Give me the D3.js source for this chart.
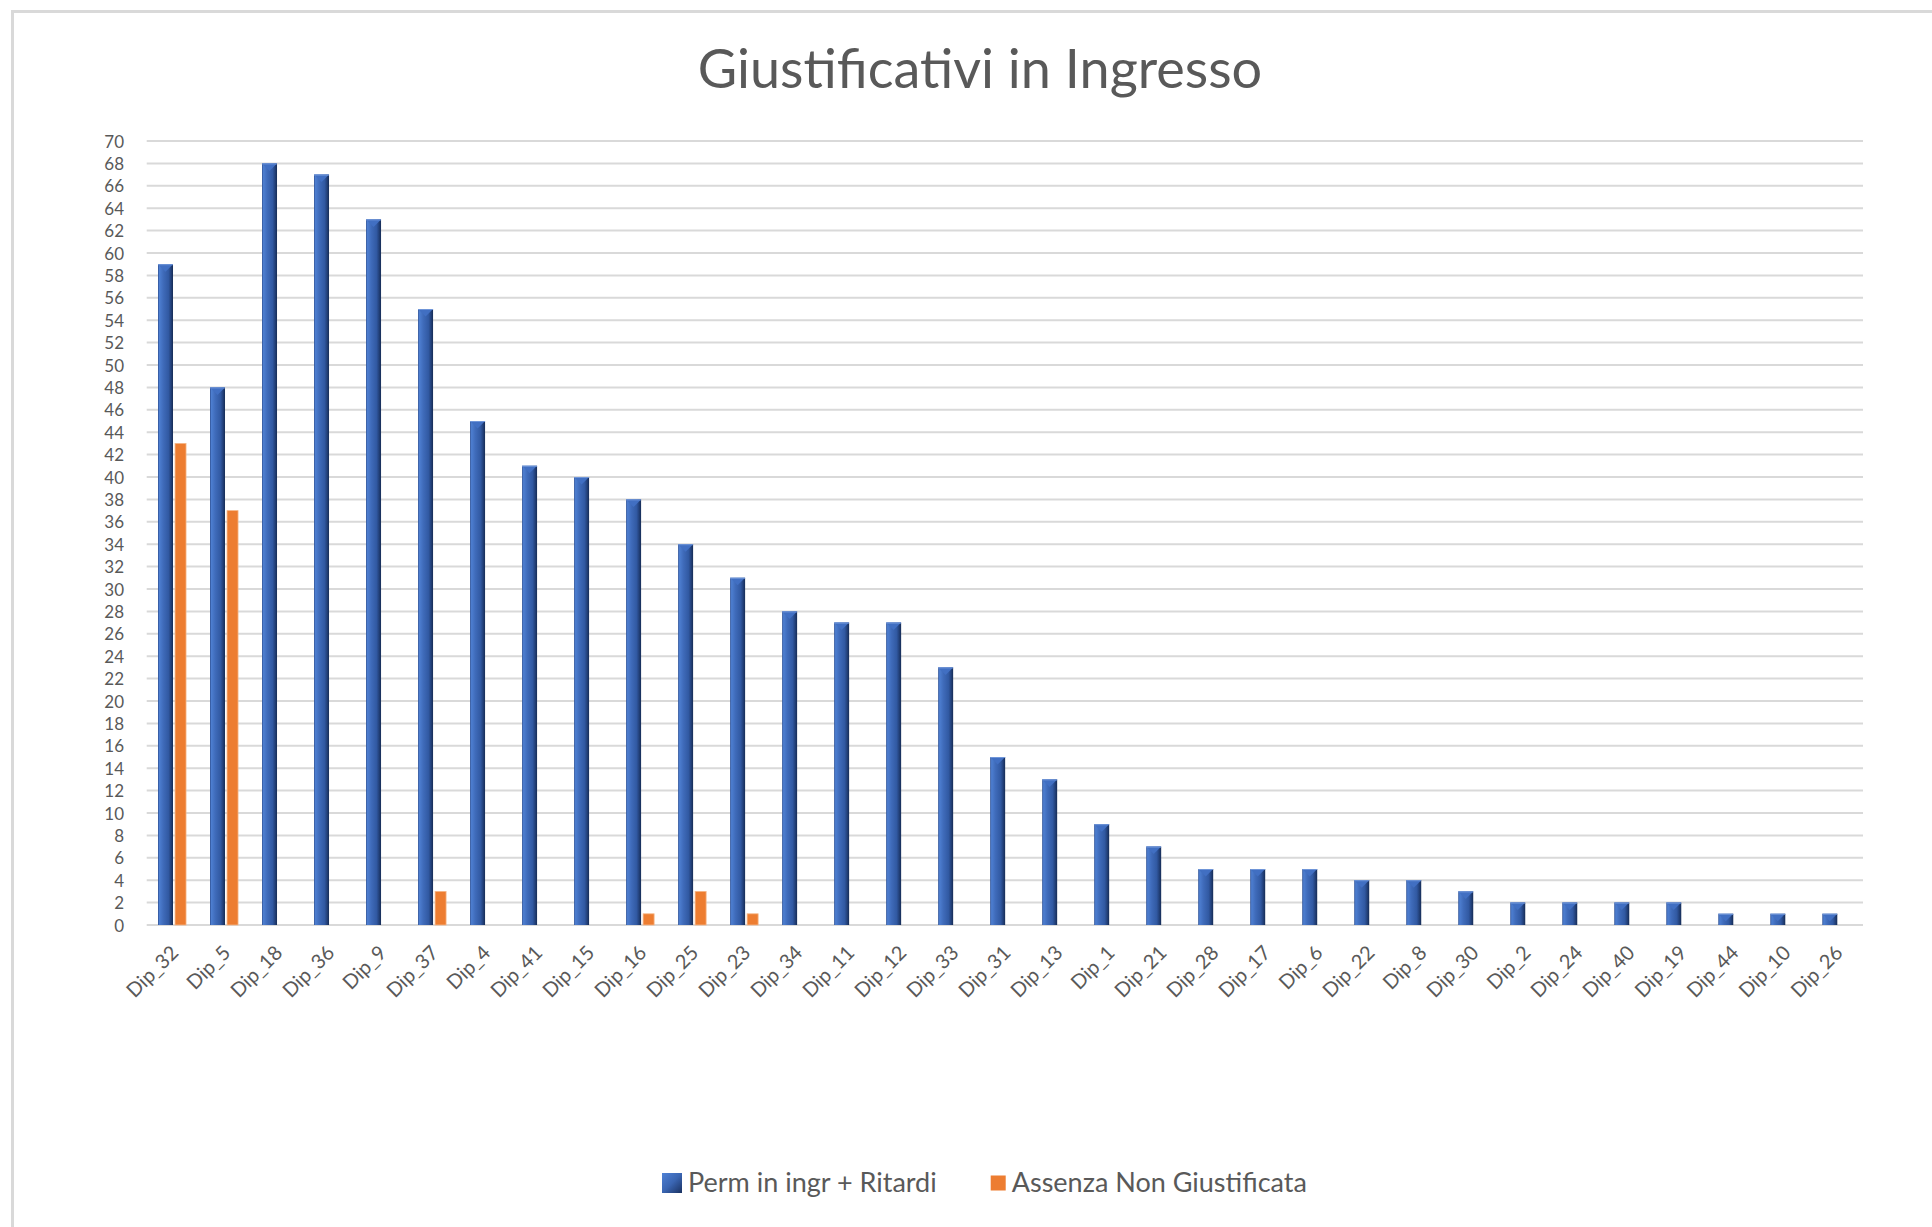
<!DOCTYPE html>
<html>
<head>
<meta charset="utf-8">
<script src="https://cdn.jsdelivr.net/npm/d3@7"></script>
<style>
  html, body { margin: 0; padding: 0; background: #ffffff; }
  svg { display: block; }
</style>
</head>
<body>
<script>
// ---------------- DATA ----------------
const categories = ["Dip_32","Dip_5","Dip_18","Dip_36","Dip_9","Dip_37","Dip_4","Dip_41","Dip_15","Dip_16","Dip_25","Dip_23","Dip_34","Dip_11","Dip_12","Dip_33","Dip_31","Dip_13","Dip_1","Dip_21","Dip_28","Dip_17","Dip_6","Dip_22","Dip_8","Dip_30","Dip_2","Dip_24","Dip_40","Dip_19","Dip_44","Dip_10","Dip_26"];
const permRitardi = [59,48,68,67,63,55,45,41,40,38,34,31,28,27,27,23,15,13,9,7,5,5,5,4,4,3,2,2,2,2,1,1,1];
const assenzaNonGiustificata = [43,37,0,0,0,3,0,0,0,1,3,1,0,0,0,0,0,0,0,0,0,0,0,0,0,0,0,0,0,0,0,0,0];
const seriesNames = ["Perm in ingr + Ritardi", "Assenza Non Giustificata"];
const yTicks = [0,2,4,6,8,10,12,14,16,18,20,22,24,26,28,30,32,34,36,38,40,42,44,46,48,50,52,54,56,58,60,62,64,66,68,70];
const chartTitle = "Giustificativi in Ingresso";

// ---------------- LAYOUT ----------------
const W = 1932, H = 1227;
const plot = { left: 146.7, right: 1863, top: 141, bottom: 925 };
const FONT = "Lato, 'Open Sans', sans-serif";
const textColor = "#595959";

const svg = d3.select("body").append("svg")
  .attr("width", W).attr("height", H)
  .attr("viewBox", `0 0 ${W} ${H}`);

svg.append("rect").attr("width", W).attr("height", H).attr("fill", "#fff");

// chart area border (top + left visible)
svg.append("path")
  .attr("d", `M12.5,${H} L12.5,11.5 L${W},11.5`)
  .attr("fill", "none").attr("stroke", "#d9d9d9").attr("stroke-width", 3);

const defs = svg.append("defs");
const gBar = defs.append("linearGradient").attr("id", "blueBar")
  .attr("x1", "0%").attr("x2", "100%").attr("y1", "0%").attr("y2", "0%");
[["0%","#2d4f92"],["10%","#4d7ed0"],["35%","#3f6bba"],["70%","#3159a2"],["85%","#24437e"],["100%","#162c55"]]
  .forEach(([o,c]) => gBar.append("stop").attr("offset", o).attr("stop-color", c));

const gLeg = defs.append("linearGradient").attr("id", "blueLeg")
  .attr("x1", "0%").attr("x2", "100%").attr("y1", "0%").attr("y2", "100%");
[["0%","#4f82d6"],["50%","#3a65b2"],["100%","#1a3160"]]
  .forEach(([o,c]) => gLeg.append("stop").attr("offset", o).attr("stop-color", c));

// ---------------- SCALES ----------------
const x = d3.scaleBand().domain(categories).range([plot.left, plot.right]).paddingInner(0).paddingOuter(0);
const xSeries = d3.scaleBand().domain(seriesNames).range([-14.7, 14.3]).paddingInner(0.07);
const y = d3.scaleLinear().domain([0, 70]).range([plot.bottom, plot.top]);

const blueW = 15, orangeW = 11;

// ---------------- GRID ----------------
svg.append("g").selectAll("line").data(yTicks).join("line")
  .attr("x1", plot.left).attr("x2", plot.right)
  .attr("y1", d => y(d)).attr("y2", d => y(d))
  .attr("stroke", "#d9d9d9").attr("stroke-width", 2);

// ---------------- Y AXIS ----------------
const yAxis = d3.axisLeft(y).tickValues(yTicks).tickSize(0).tickPadding(0);
const yg = svg.append("g").attr("transform", `translate(124,0)`).call(yAxis);
yg.select(".domain").remove();
yg.selectAll("text")
  .attr("font-family", FONT).attr("font-size", 17).attr("fill", textColor)
  .attr("dy", "0.36em");

// ---------------- BARS ----------------
const bars = svg.append("g");
const blue = bars.selectAll("g.blue").data(categories).join("g").attr("class", "blue");
blue.append("rect")
  .attr("x", (d) => x(d) + x.bandwidth() / 2 + xSeries(seriesNames[0]))
  .attr("width", blueW)
  .attr("y", (d, i) => y(permRitardi[i]))
  .attr("height", (d, i) => y(0) - y(permRitardi[i]))
  .attr("fill", "url(#blueBar)");
blue.append("path")
  .attr("d", (d, i) => {
    const x0 = x(d) + x.bandwidth() / 2 + xSeries(seriesNames[0]);
    const y0 = y(permRitardi[i]);
    const h = Math.min(blueW / 2, y(0) - y0);
    return `M${x0},${y0} L${x0 + blueW},${y0} L${x0 + blueW / 2},${y0 + h} Z`;
  })
  .attr("fill", "#416fc2");
blue.append("path")
  .attr("d", (d, i) => {
    const x0 = x(d) + x.bandwidth() / 2 + xSeries(seriesNames[0]);
    const y0 = y(permRitardi[i]);
    return `M${x0},${y0 + 0.5} L${x0 + blueW},${y0 + 0.5}`;
  })
  .attr("stroke", "#6f95d8").attr("stroke-width", 1);

bars.selectAll("rect.orange").data(categories).join("rect").attr("class", "orange")
  .attr("x", (d) => x(d) + x.bandwidth() / 2 + xSeries(seriesNames[1]) + 2)
  .attr("width", orangeW)
  .attr("y", (d, i) => y(assenzaNonGiustificata[i]))
  .attr("height", (d, i) => y(0) - y(assenzaNonGiustificata[i]))
  .attr("fill", "#ed7d31")
  .attr("stroke", (d, i) => assenzaNonGiustificata[i] > 0 ? "#f6b789" : "none")
  .attr("stroke-width", 0.8);

// ---------------- X AXIS ----------------
const xg = svg.append("g");
xg.selectAll("text").data(categories).join("text")
  .attr("transform", d => `translate(${x(d) + x.bandwidth() / 2 + 7},${plot.bottom + 29}) rotate(-45)`)
  .attr("text-anchor", "end")
  .attr("font-family", FONT).attr("font-size", 20).attr("fill", textColor)
  .text(d => d);

// ---------------- TITLE ----------------
svg.append("text")
  .attr("x", 980).attr("y", 88)
  .attr("text-anchor", "middle")
  .attr("font-family", FONT).attr("font-size", 54).attr("fill", textColor)
  .text(chartTitle);

// ---------------- LEGEND ----------------
const leg = svg.append("g");
const legY = 1183;
const item1 = leg.append("g").attr("transform", `translate(662,${legY})`);
item1.append("rect").attr("x", 0).attr("y", -10).attr("width", 20).attr("height", 20).attr("fill", "url(#blueLeg)");
const t1 = item1.append("text").attr("x", 26).attr("y", 0).attr("dy", "0.35em")
  .attr("font-family", FONT).attr("font-size", 27).attr("fill", textColor)
  .text(seriesNames[0]);
const t1w = t1.node().getComputedTextLength();
const item2X = 662 + 26 + t1w + 54;
const item2 = leg.append("g").attr("transform", `translate(${item2X},${legY})`);
item2.append("rect").attr("x", 0).attr("y", -7.5).attr("width", 15).attr("height", 15).attr("fill", "#ed7d31");
item2.append("text").attr("x", 21).attr("y", 0).attr("dy", "0.35em")
  .attr("font-family", FONT).attr("font-size", 27).attr("fill", textColor)
  .text(seriesNames[1]);
</script>
</body>
</html>
